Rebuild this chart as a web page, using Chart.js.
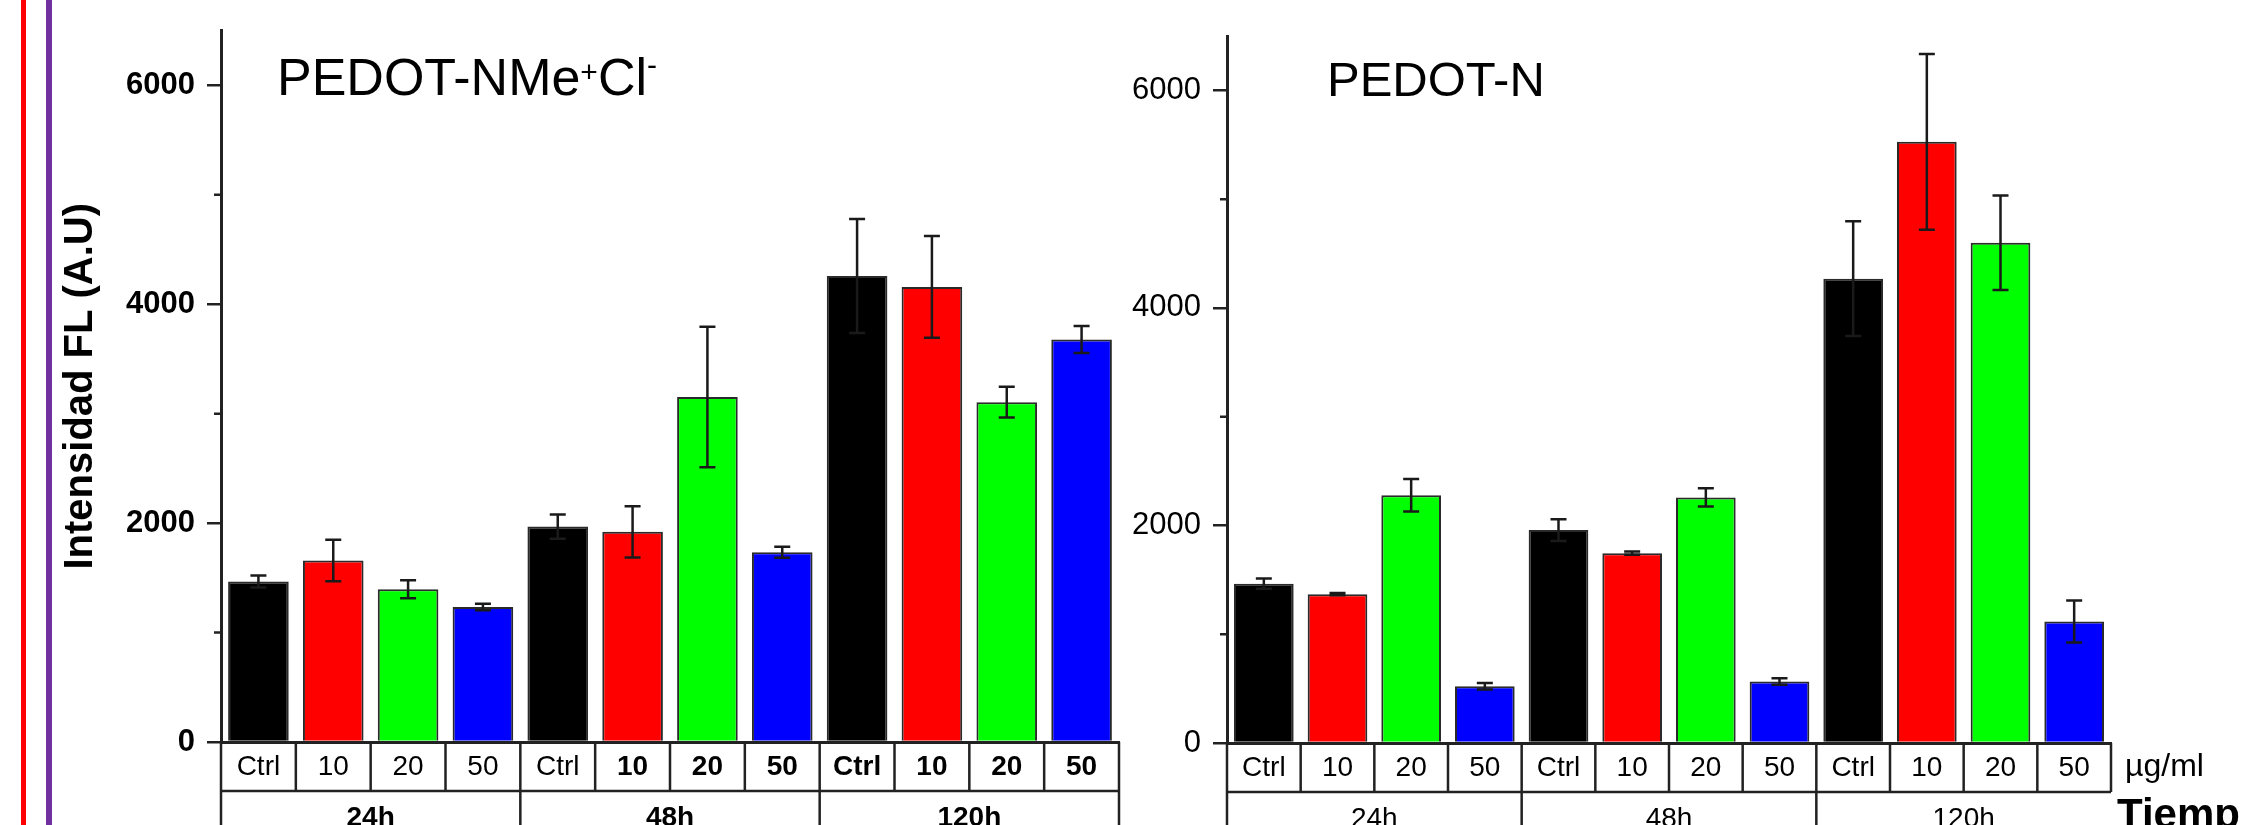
<!DOCTYPE html>
<html>
<head>
<meta charset="utf-8">
<script src="https://cdn.jsdelivr.net/npm/chart.js@4.4.1/dist/chart.umd.min.js"></script>
<style>
  html, body { margin:0; padding:0; background:#ffffff; width:2241px; height:825px; overflow:hidden; }
  .vline { position:absolute; top:0; height:825px; }
  #c1 { position:absolute; left:0; top:0; }
  #c2 { position:absolute; left:1130px; top:0; }
</style>
</head>
<body>
<div class="vline" style="left:21px;width:5px;background:#ff0000"></div>
<div class="vline" style="left:46px;width:6px;background:#7030a0"></div>
<canvas id="c1" width="1130" height="825"></canvas>
<canvas id="c2" width="1111" height="825"></canvas>
<script>
// ---------------- data ----------------
const doses = ['Ctrl', '10', '20', '50'];
const times = ['24h', '48h', '120h'];
const categories = times.flatMap(() => doses);          // 12 x-axis labels
const yTicks = [0, 2000, 4000, 6000];                    // labelled ticks
const minorTicks = [1000, 3000, 5000];
const yMax = 6500;

// PEDOT-NMe+Cl-  (24h, 48h, 120h  x  Ctrl, 10, 20, 50 ug/ml)
const nmeValues = [1466, 1658, 1396, 1234,  1968, 1920, 3152, 1734,  4258, 4158, 3105, 3677];
const nmeErrors = [  55,  190,   83,   30,   110,  235,  642,   50,   520,  465,  140,  123];
// PEDOT-N
const nValues   = [1465, 1368, 2278,  522,  1958, 1745, 2258,  565,  4269, 5527, 4599, 1117];
const nErrors   = [  48,   10,  150,   30,   100,   15,   83,   30,   528,  808,  435,  193];

const doseColors = ['#000000', '#ff0000', '#00ff00', '#0000ff'];

// ---------------- helpers ----------------
const FONT = '"Liberation Sans", Arial, Helvetica, sans-serif';
Chart.defaults.font.family = FONT;
const LINE = '#222222';

function decorPlugin(cfg) {
  return {
    id: 'decor_' + cfg.name,
    afterDatasetsDraw(chart) {
      const ctx = chart.ctx, x = chart.scales.x, y = chart.scales.y;
      const vals = cfg.values, errs = cfg.errors;
      ctx.save();
      ctx.strokeStyle = '#1a1a1a';
      ctx.lineWidth = 2.5;
      for (let i = 0; i < vals.length; i++) {
        const px = x.getPixelForValue(i);
        const yt = y.getPixelForValue(vals[i] + errs[i]);
        const yb = y.getPixelForValue(vals[i] - errs[i]);
        ctx.beginPath();
        ctx.moveTo(px, yt); ctx.lineTo(px, yb);
        ctx.moveTo(px - 8, yt); ctx.lineTo(px + 8, yt);
        ctx.moveTo(px - 8, yb); ctx.lineTo(px + 8, yb);
        ctx.stroke();
      }
      ctx.restore();
    },
    afterDraw(chart) {
      const ctx = chart.ctx, x = chart.scales.x, y = chart.scales.y;
      const area = chart.chartArea;
      const n = categories.length;
      const half = (x.getPixelForValue(1) - x.getPixelForValue(0)) / 2;
      const bnd = i => x.getPixelForValue(i) - half;
      const row1Bottom = x.top + 49;
      const bottom = chart.height + 5;
      ctx.save();
      // minor ticks
      ctx.strokeStyle = LINE; ctx.lineWidth = 2.5;
      ctx.beginPath();
      minorTicks.forEach(m => {
        const py = y.getPixelForValue(m);
        ctx.moveTo(area.left - 7, py); ctx.lineTo(area.left, py);
      });
      ctx.stroke();
      // category table
      ctx.lineWidth = 2.5;
      ctx.beginPath();
      ctx.moveTo(area.left, row1Bottom); ctx.lineTo(bnd(n), row1Bottom);
      for (let i = 0; i <= n; i++) {
        ctx.moveTo(bnd(i), x.top); ctx.lineTo(bnd(i), row1Bottom);
      }
      for (let g = 0; g <= times.length; g++) {
        if (g === times.length && !cfg.row2RightBorder) continue;
        const bx = bnd(g * doses.length);
        ctx.moveTo(bx, row1Bottom); ctx.lineTo(bx, bottom);
      }
      ctx.stroke();
      // group labels (second row)
      ctx.fillStyle = '#000';
      ctx.textAlign = 'center';
      ctx.textBaseline = 'alphabetic';
      ctx.font = cfg.groupWeight + ' 28px ' + FONT;
      times.forEach((t, g) => {
        const cx = (bnd(g * doses.length) + bnd((g + 1) * doses.length)) / 2;
        ctx.fillText(t, cx, x.top + 84);
      });
      // panel title with superscripts
      ctx.textAlign = 'left';
      let tx = cfg.titleX;
      cfg.title.forEach(part => {
        ctx.font = part.size + 'px ' + FONT;
        ctx.fillText(part.text, tx, part.base);
        tx += ctx.measureText(part.text).width;
      });
      // extra labels
      (cfg.extra || []).forEach(e => {
        ctx.font = e.font;
        ctx.fillText(e.text, e.x, e.y);
      });
      ctx.restore();
    }
  };
}

function makeChart(canvasId, cfg) {
  return new Chart(document.getElementById(canvasId), {
    type: 'bar',
    data: {
      labels: categories,
      datasets: [{
        data: cfg.values,
        backgroundColor: categories.map((_, i) => doseColors[i % doses.length]),
        borderColor: '#2a2a2a',
        borderWidth: 2,
        barPercentage: 0.81,
        categoryPercentage: 1.0
      }]
    },
    options: {
      responsive: false,
      animation: false,
      events: [],
      layout: { padding: cfg.padding },
      plugins: { legend: { display: false }, tooltip: { enabled: false } },
      scales: {
        x: {
          type: 'category',
          offset: true,
          grid: { display: false, drawTicks: false },
          border: { display: true, color: LINE, width: 3 },
          ticks: {
            color: '#000',
            padding: 8,
            autoSkip: false,
            maxRotation: 0,
            font: c => ({ family: FONT, size: 28, weight: cfg.boldTick(c.index) ? 'bold' : 'normal' })
          },
          afterFit: s => { s.height = cfg.xHeight; }
        },
        y: {
          min: 0,
          max: yMax,
          grid: { drawOnChartArea: false, drawTicks: true, tickLength: 14, color: LINE, lineWidth: 2.5 },
          border: { display: true, color: LINE, width: 3 },
          afterBuildTicks: s => { s.ticks = yTicks.map(v => ({ value: v })); },
          ticks: {
            padding: 12,
            color: '#000',
            callback: v => String(v),
            font: { family: FONT, size: 31, weight: cfg.yTickWeight }
          },
          title: cfg.yTitle,
          afterFit: s => { s.width = cfg.yWidth; }
        }
      }
    },
    plugins: [decorPlugin(cfg)]
  });
}

makeChart('c1', {
  name: 'nme',
  values: nmeValues,
  errors: nmeErrors,
  padding: { left: 0, right: 11, top: 24, bottom: 0 },
  xHeight: 83,
  yWidth: 221,
  yTickWeight: 'bold',
  groupWeight: 'bold',
  boldTick: i => i >= 5,
  row2RightBorder: true,
  yTitle: { display: true, text: 'Intensidad FL (A.U)', color: '#000',
            font: { family: FONT, size: 40, weight: 'bold' }, padding: { top: 57, bottom: 0 } },
  titleX: 277,
  title: [
    { text: 'PEDOT-NMe', size: 52, base: 95 },
    { text: '+', size: 30, base: 82 },
    { text: 'Cl', size: 52, base: 95 },
    { text: '-', size: 30, base: 75 }
  ]
});

makeChart('c2', {
  name: 'n',
  values: nValues,
  errors: nErrors,
  padding: { left: 0, right: 130, top: 36, bottom: 0 },
  xHeight: 82,
  yWidth: 97,
  yTickWeight: 'normal',
  groupWeight: 'normal',
  boldTick: () => false,
  row2RightBorder: false,
  yTitle: { display: false },
  titleX: 197,
  title: [ { text: 'PEDOT-N', size: 49, base: 96 } ],
  extra: [
    { text: '\u00B5g/ml', font: '32px ' + FONT, x: 995, y: 776 },
    { text: 'Tiempo', font: 'bold 42px ' + FONT, x: 987, y: 828 }
  ]
});
</script>
</body>
</html>
